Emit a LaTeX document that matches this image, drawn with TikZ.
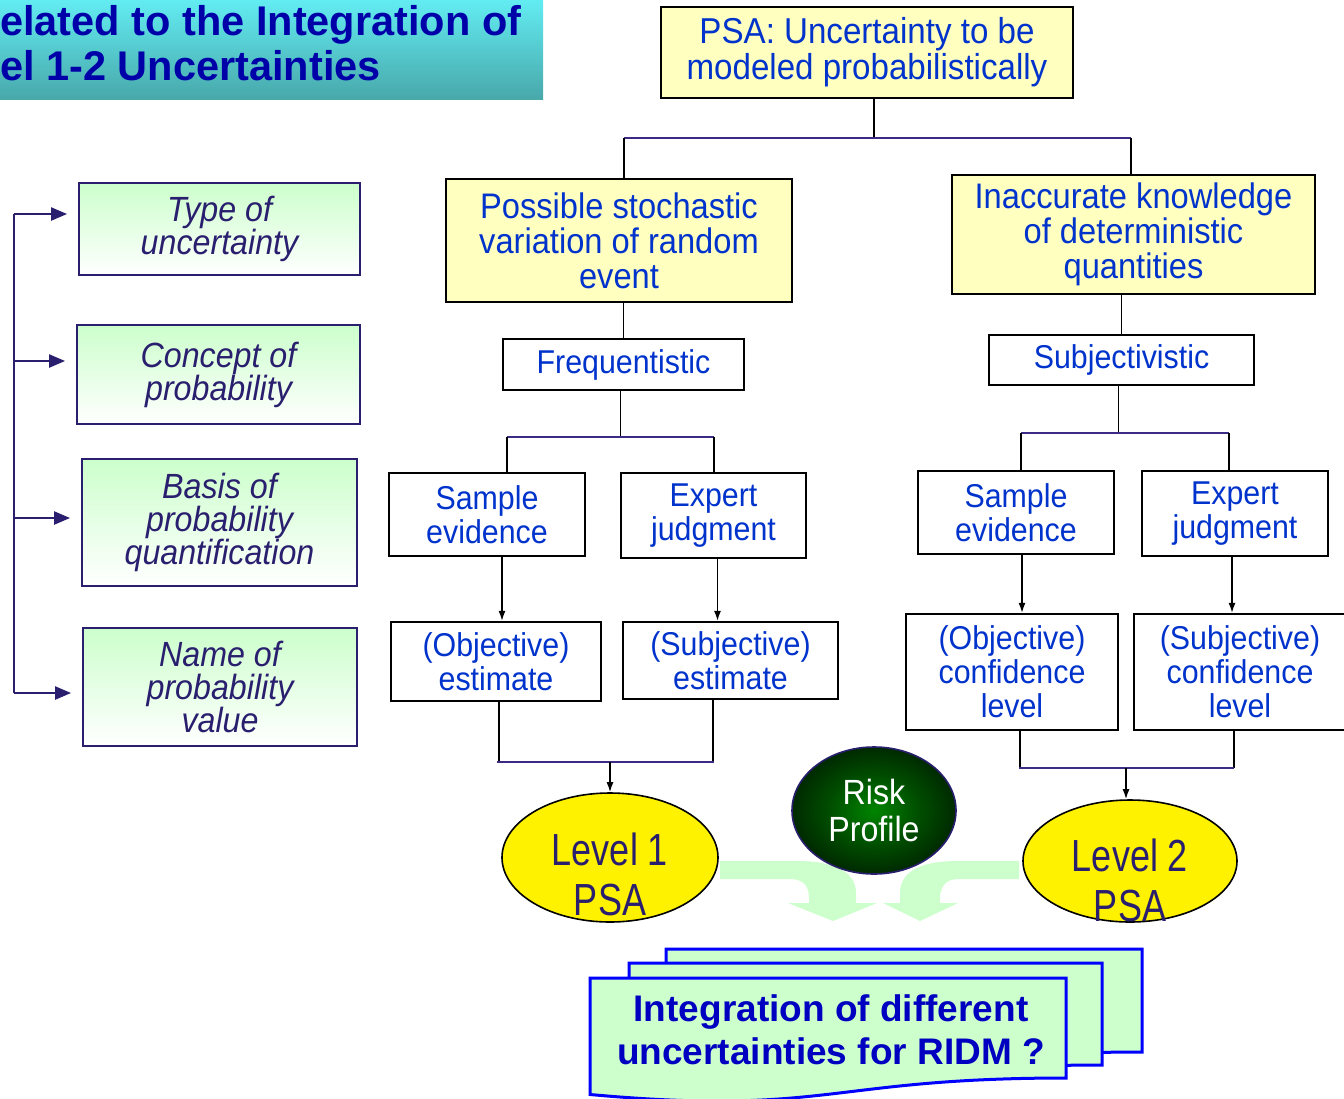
\documentclass[tikz,border=0pt]{standalone}
\usepackage{fontspec}
\setmainfont{Liberation Sans}
\newfontfamily\nar[FakeStretch=0.92]{Liberation Sans}
\newfontfamily\narx[FakeStretch=0.8]{Liberation Sans}
\usetikzlibrary{arrows.meta,shapes.geometric,calc}
\definecolor{tblue}{HTML}{0033CC}
\definecolor{yfill}{HTML}{FFFFC0}
\definecolor{pbar}{HTML}{3C2A85}
\definecolor{navy}{HTML}{2A1F6E}
\definecolor{gfill}{HTML}{CCFFCC}
\definecolor{ttl}{HTML}{0000A8}
\definecolor{bantop}{HTML}{62ECF2}
\definecolor{banbot}{HTML}{48A8AA}
\definecolor{docblue}{HTML}{0000FF}
\definecolor{doctxt}{HTML}{0000C0}
\pgfdeclareradialshading{riskshade}{\pgfpoint{0bp}{0bp}}{rgb(0bp)=(0,0.52,0);rgb(14bp)=(0,0.3,0);rgb(30bp)=(0,0.1,0);rgb(50bp)=(0,0,0)}
\begin{document}
\begin{tikzpicture}[x=1pt,y=-1pt,
  ybox/.style={draw=black,line width=2.2pt,fill=yfill,text=tblue,align=center,inner sep=0pt,font=\nar\fontsize{35.5}{35}\selectfont},
  wbox/.style={draw=black,line width=2.2pt,fill=white,text=tblue,align=center,inner sep=0pt,font=\nar\fontsize{33}{34}\selectfont},
  gbox/.style={draw=navy,line width=1.8pt,top color=gfill,bottom color=white,text=navy,align=center,inner sep=0pt,font=\nar\itshape\fontsize{35}{33}\selectfont},
  vline/.style={draw=black,line width=1.8pt},
  hbar/.style={draw=pbar,line width=2.4pt},
  arr/.style={draw=black,line width=1.5pt,-{Latex[length=10pt,width=7pt]}},
  larr/.style={draw=navy,line width=2.2pt,-{Triangle[length=16pt,width=13pt]}},
  lvl/.style={text=navy,align=center,inner sep=0pt,font=\narx\fontsize{45}{50}\selectfont},
  yell/.style={ellipse,draw=black,line width=1.6pt,fill=yellow,inner sep=0pt}
]
\useasboundingbox (0,0) rectangle (1344,1098);
\clip (0,0) rectangle (1344,1098);

% title banner
\shade[top color=bantop,bottom color=banbot] (0,0) rectangle (543,99);
\node[anchor=base west,inner sep=0pt,text=ttl,font=\bfseries\fontsize{41.5}{45}\selectfont] (ttl1) at (0,35) {elated to the Integration of};
\node[anchor=base west,inner sep=0pt,text=ttl,font=\bfseries\fontsize{41.5}{45}\selectfont] (ttl2) at (0,80) {el 1-2 Uncertainties};

% left column
\node[gbox,minimum width=281pt,minimum height=92pt] (t1) at (219.5,229) {Type of\\uncertainty};
\node[gbox,minimum width=283pt,minimum height=99pt] (t2) at (218.5,374.5) {Concept of\\probability};
\node[gbox,minimum width=275pt,minimum height=127pt] (t3) at (219.5,522.5) {Basis of\\probability\\quantification};
\node[gbox,minimum width=274pt,minimum height=118pt] (t4) at (220,687) {Name of\\probability\\value};
\coordinate (sp1) at (14,214);
\coordinate (sp2) at (14,361);
\coordinate (sp3) at (14,518);
\coordinate (sp4) at (14,693);
\draw[navy,line width=2.2pt] (sp1) -- (sp4);
\draw[larr] (sp1) -- ([xshift=-11pt]t1.west |- sp1);
\draw[larr] (sp2) -- ([xshift=-11pt]t2.west |- sp2);
\draw[larr] (sp3) -- ([xshift=-11pt]t3.west |- sp3);
\draw[larr] (sp4) -- ([xshift=-11pt]t4.west |- sp4);

% tree
\node[ybox,minimum width=412pt,minimum height=91pt,font=\nar\fontsize{36}{36}\selectfont] (psa) at (867,52.5) {PSA: Uncertainty to be\\modeled probabilistically};
\node[ybox,minimum width=346pt,minimum height=123pt] (pse) at (619,240.5) {Possible stochastic\\variation of random\\event};
\node[ybox,minimum width=363pt,minimum height=119pt] (inacc) at (1133.5,234.5) {Inaccurate knowledge\\of deterministic\\quantities};
\node[wbox,minimum width=241pt,minimum height=51pt] (freq) at (623.5,364.5) {Frequentistic};
\node[wbox,minimum width=265pt,minimum height=50pt] (subj) at (1121.5,360) {Subjectivistic};
\node[wbox,minimum width=196pt,minimum height=83pt] (se1) at (487,514.5) {Sample\\evidence};
\node[wbox,minimum width=185pt,minimum height=85pt] (ej1) at (713.5,515.5) {Expert\\judgment};
\node[wbox,minimum width=210pt,minimum height=79pt] (oe) at (496,661.5) {(Objective)\\estimate};
\node[wbox,minimum width=215pt,minimum height=77pt] (sue) at (730.5,660.5) {(Subjective)\\estimate};
\node[wbox,minimum width=196pt,minimum height=83pt] (se2) at (1016,512.5) {Sample\\evidence};
\node[wbox,minimum width=186pt,minimum height=85pt] (ej2) at (1235,513.5) {Expert\\judgment};
\node[wbox,minimum width=212pt,minimum height=116pt] (ocl) at (1012,672) {(Objective)\\confidence\\level};
\node[wbox,minimum width=212pt,minimum height=116pt] (scl) at (1240,672) {(Subjective)\\confidence\\level};

% connectors top
\coordinate (b1L) at (624,138);
\coordinate (b1R) at (1131,138);
\draw[vline] ([xshift=7pt]psa.south) -- ([xshift=7pt]psa.south |- b1L);
\draw[hbar] (b1L) -- (b1R);
\draw[vline] (b1L) -- (b1L |- pse.north);
\draw[vline] (b1R) -- (b1R |- inacc.north);
\draw[vline] (freq.north) -- (freq.north |- pse.south);
\draw[vline] (subj.north) -- (subj.north |- inacc.south);

% left branch
\coordinate (b2L) at (507,437);
\coordinate (b2R) at (714,437);
\draw[vline] ([xshift=-3pt]freq.south) -- ([xshift=-3pt]freq.south |- b2L);
\draw[hbar] (b2L) -- (b2R);
\draw[vline] (b2L) -- (b2L |- se1.north);
\draw[vline] (b2R) -- (b2R |- ej1.north);
\draw[arr] ([xshift=15pt]se1.south) -- ([xshift=15pt]se1.south |- oe.north);
\draw[arr] ([xshift=4pt]ej1.south) -- ([xshift=4pt]ej1.south |- sue.north);
\coordinate (b3L) at (497,762);
\coordinate (b3R) at (714,762);
\draw[vline] ([xshift=3pt]oe.south) -- ([xshift=3pt]oe.south |- b3L);
\draw[vline] ([xshift=-17.5pt]sue.south) -- ([xshift=-17.5pt]sue.south |- b3L);
\draw[hbar] (b3L) -- (b3R);

% right branch
\coordinate (b4L) at (1021,433);
\coordinate (b4R) at (1229,433);
\draw[vline] ([xshift=-3pt]subj.south) -- ([xshift=-3pt]subj.south |- b4L);
\draw[hbar] (b4L) -- (b4R);
\draw[vline] (b4L) -- (b4L |- se2.north);
\draw[vline] (b4R) -- (b4R |- ej2.north);
\draw[arr] ([xshift=6pt]se2.south) -- ([xshift=6pt]se2.south |- ocl.north);
\draw[arr] ([xshift=-3pt]ej2.south) -- ([xshift=-3pt]ej2.south |- scl.north);
\coordinate (b5L) at (1019,768);
\coordinate (b5R) at (1234,768);
\draw[vline] ([xshift=8pt]ocl.south) -- ([xshift=8pt]ocl.south |- b5L);
\draw[vline] ([xshift=-6pt]scl.south) -- ([xshift=-6pt]scl.south |- b5L);
\draw[hbar] (b5L) -- (b5R);

% green block arrows
\fill[gfill] (720,861) -- (797,861) .. controls (840,861) and (856,875) .. (856,893) -- (856,903) -- (877,903) -- (833,921) -- (788,903) -- (809,903) -- (809,898) .. controls (809,888) and (805,879) .. (790,879) -- (720,879) -- cycle;
\fill[gfill] (1019,861) -- (957,861) .. controls (915,861) and (900,875) .. (900,893) -- (900,903) -- (883,903) -- (920,921) -- (958,903) -- (940,903) -- (940,898) .. controls (940,888) and (945,879) .. (958,879) -- (1019,879) -- cycle;

% ellipses
\node[yell,minimum width=216pt,minimum height=129pt] (l1) at (610,857.5) {};
\node[lvl] (l1t) at (610,874) {Level 1\\PSA};
\node[yell,minimum width=214pt,minimum height=122pt] (l2) at (1130,861) {};
\node[lvl] (l2t) at (1130,880) {Level 2\\PSA};
\node[ellipse,draw=navy,line width=1.6pt,shading=riskshade,minimum width=164pt,minimum height=127pt,inner sep=0pt,text=white,align=center,font=\nar\fontsize{35}{37}\selectfont] (risk) at (874,810.5) {Risk\\Profile};
\draw[arr] (l1.north |- b3L) -- (l1.north);
\draw[arr] ([xshift=-4pt]l2.north |- b5L) -- ([xshift=-4pt]l2.north);

% stacked documents
\filldraw[fill=gfill,draw=docblue,line width=3pt] (666,949) -- (1142,949) -- (1142,1052) .. controls (904,1052) and (904,1091) .. (666,1069) -- cycle;
\filldraw[fill=gfill,draw=docblue,line width=3pt] (629,963) -- (1102,963) -- (1102,1065) .. controls (865,1065) and (865,1104) .. (629,1082) -- cycle;
\filldraw[fill=gfill,draw=docblue,line width=3pt] (590,978) -- (1066,978) -- (1066,1078) .. controls (828,1078) and (828,1116) .. (590,1094.5) -- cycle;
\node[align=center,inner sep=0pt,text=doctxt,font=\bfseries\fontsize{37}{43}\selectfont] (integ) at (831,1030) {Integration of different\\uncertainties for RIDM ?};
\end{tikzpicture}
\end{document}
